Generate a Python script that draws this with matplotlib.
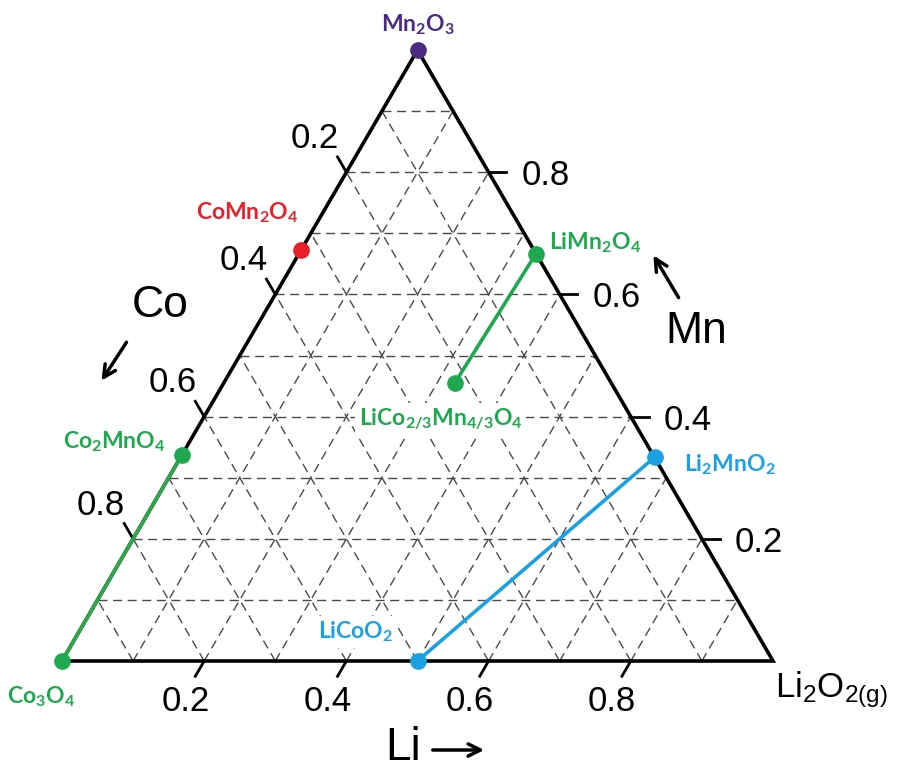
import numpy as np
import matplotlib
matplotlib.use("Agg")
import matplotlib.pyplot as plt

plt.rcParams["mathtext.fontset"] = "custom"
plt.rcParams["mathtext.bf"] = "Lato:bold"
plt.rcParams["mathtext.rm"] = "Liberation Sans"

# compositions as (Li fraction, Mn fraction); Co is the remainder
names = ["Mn2O3", "CoMn2O4", "Co2MnO4", "Co3O4", "LiMn2O4",
         "LiCo2/3Mn4/3O4", "Li2MnO2", "LiCoO2"]
labels = [r"$\mathbf{Mn_2O_3}$", r"$\mathbf{CoMn_2O_4}$",
          r"$\mathbf{Co_2MnO_4}$", r"$\mathbf{Co_3O_4}$",
          r"$\mathbf{LiMn_2O_4}$", r"$\mathbf{LiCo_{2/3}Mn_{4/3}O_4}$",
          r"$\mathbf{Li_2MnO_2}$", r"$\mathbf{LiCoO_2}$"]
li_frac = [0.0, 0.0, 0.0, 0.0, 1 / 3, 0.325, 2 / 3, 0.5]
mn_frac = [1.0, 0.673, 0.337, 0.0, 2 / 3, 0.455, 1 / 3, 0.0]
colors = ["#4b2c80", "#e8202a", "#1fa84f", "#1fa84f", "#1fa84f",
          "#1fa84f", "#1ba1e2", "#1ba1e2"]
# label offsets in pixels from each point
label_off = [(0, 25), (-54, 37), (-68, 13), (-21, -36), (59, 11),
             (-14, -36), (75, -7), (-62, 29)]

# tie lines between compounds
tie_lines = [("Co3O4", "Co2MnO4", "#2ea84a"),
             ("LiMn2O4", "LiCo2/3Mn4/3O4", "#1fa84f"),
             ("LiCoO2", "Li2MnO2", "#1ba1e2")]

tick_vals = [0.2, 0.4, 0.6, 0.8]
grid_vals = np.arange(1, 10) / 10

H = np.sqrt(3) / 2


def to_xy(li, mn):
    li = np.asarray(li, dtype=float)
    mn = np.asarray(mn, dtype=float)
    return li + mn / 2, mn * H


fig = plt.figure(figsize=(9, 7.69), dpi=100)
ax = fig.add_axes([0, 0, 1, 1])
ax.set_xlim(-62 / 711, 838 / 711)
ax.set_ylim(-108 / 611 * H, 661 / 611 * H)
ax.axis("off")

tick_font = dict(family="Liberation Sans", fontsize=25, color="black")

# dashed grid
for v in grid_vals:
    for li, mn in [([0, 1 - v], [v, v]),          # constant Mn
                   ([v, v], [0, 1 - v]),          # constant Li
                   ([1 - v, 0], [0, 1 - v])]:     # constant Co
        x, y = to_xy(li, mn)
        ax.plot(x, y, color="#4a4a4a", lw=1.0, dashes=(6.5, 4), zorder=1)

# outline
x, y = to_xy([0, 1, 0, 0], [0, 0, 1, 0])
ax.plot(x, y, color="black", lw=2.6, solid_joinstyle="miter", zorder=3)

t = 0.025
for v in tick_vals:
    # Co ticks on the left edge
    x, y = to_xy([0, -t], [1 - v, 1 - v + t])
    ax.plot(x, y, color="black", lw=2.0, zorder=3)
    ax.annotate(f"{v:.1f}", (x[1], y[1]), xytext=(1, 9), textcoords="offset pixels",
                ha="right", va="baseline", **tick_font)
    # Mn ticks on the right edge
    x, y = to_xy([1 - v, 1 - v + t], [v, v])
    ax.plot(x, y, color="black", lw=2.0, zorder=3)
    ax.annotate(f"{v:.1f}", (x[1], y[1]), xytext=(15, 0), textcoords="offset pixels",
                ha="left", va="center_baseline", **tick_font)
    # Li ticks on the bottom edge
    x, y = to_xy([v, v], [0, -t])
    ax.plot(x, y, color="black", lw=2.0, zorder=3)
    ax.annotate(f"{v:.1f}", (x[1], y[1]), xytext=(-10, -35), textcoords="offset pixels",
                ha="center", va="baseline", **tick_font)

# tie lines
for a, b, c in tie_lines:
    i, j = names.index(a), names.index(b)
    x, y = to_xy([li_frac[i], li_frac[j]], [mn_frac[i], mn_frac[j]])
    ax.plot(x, y, color=c, lw=2.6, solid_capstyle="round", zorder=4)

# compounds
px, py = to_xy(li_frac, mn_frac)
for k in range(len(names)):
    ax.plot(px[k], py[k], "o", ms=11, color=colors[k], zorder=5)
    ax.annotate(labels[k], (px[k], py[k]), xytext=label_off[k],
                textcoords="offset pixels", ha="center", va="center",
                fontsize=16.5, color=colors[k], zorder=6,
                bbox=dict(boxstyle="square,pad=0.15", fc="white", ec="none"))

# axis names and direction arrows
ax.text(98 / 711, 355 / 705.5, "Co", family="Liberation Sans", fontsize=32,
        ha="center", va="center")
ax.text(634 / 711, 329 / 705.5, "Mn", family="Liberation Sans", fontsize=32,
        ha="center", va="center")
ax.text(341 / 711, -87 / 705.5, "Li", family="Liberation Sans", fontsize=33,
        ha="center", va="center")
ax.text(713 / 711, -36 / 705.5, r"$\mathregular{Li_2O_{2(g)}}$",
        family="Liberation Sans", fontsize=25, ha="left", va="baseline")

arrow = dict(arrowstyle="->", lw=2.5, color="black", mutation_scale=22)
ax.annotate("", xy=(38 / 711, 278 / 705.5), xytext=(66 / 711, 321 / 705.5),
            arrowprops=arrow)
ax.annotate("", xy=(590 / 711, 408 / 705.5), xytext=(618 / 711, 361 / 705.5),
            arrowprops=arrow)
ax.annotate("", xy=(425 / 711, -89 / 705.5), xytext=(368 / 711, -89 / 705.5),
            arrowprops=arrow)

fig.savefig("out.png", dpi=100, facecolor="white")
